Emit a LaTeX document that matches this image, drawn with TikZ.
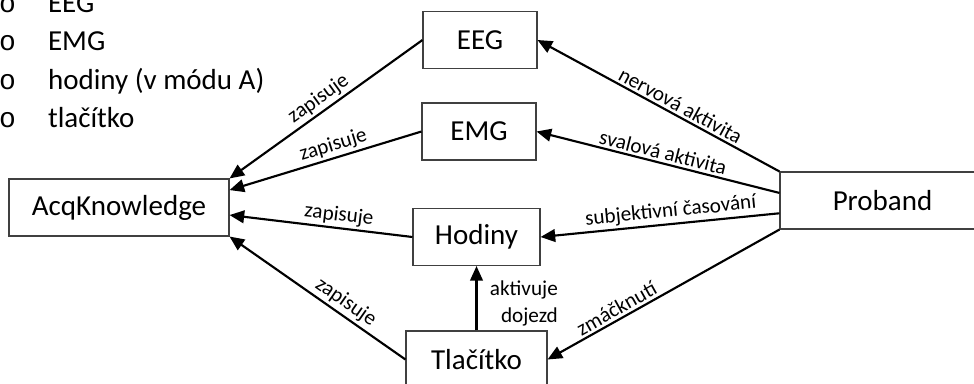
\documentclass[tikz,border=0pt]{standalone}
\usepackage{fontspec}
\setmainfont{Carlito}
\setmonofont{Liberation Mono}
\usetikzlibrary{arrows.meta,calc}

\begin{document}
\begin{tikzpicture}[x=0.75pt, y=-0.75pt,
    main/.style = {draw=black!75, line width=0.8pt, rectangle, minimum height=42.75pt, inner sep=0pt, font=\fontsize{21.75}{26}\selectfont},
    lbl/.style = {inner sep=1.8pt, font=\fontsize{15.9}{20.5}\selectfont},
    item/.style = {anchor=base west, inner sep=0pt, font=\fontsize{21.75}{26}\selectfont},
    bul/.style = {anchor=base west, inner sep=0pt, font=\ttfamily\fontsize{21}{26}\selectfont},
    >={Triangle[length=11pt, width=9.5pt]}, line width=1.6pt]
\useasboundingbox (0,0) rectangle (974,383);
\clip (0,0) rectangle (974,383);
% list top left
\node[bul] (b1) at (-2,12) {o};  \node[item] (i1) at (47,12) {EEG};
\node[bul] (b2) at (-2,50) {o};  \node[item] (i2) at (47,50) {EMG};
\node[bul] (b3) at (-2,89) {o};  \node[item] (i3) at (47,89) {hodiny (v módu A)};
\node[bul] (b4) at (-2,127) {o}; \node[item] (i4) at (47,127) {tlačítko};
% boxes
\node[main, minimum width=85.5pt] (eeg) at (480,40) {EEG};
\node[main, minimum width=85.5pt] (emg) at (479,131.5) {EMG};
\node[main, minimum width=165pt] (acq) at (119,207.5) {AcqKnowledge};
\node[main, minimum width=95.25pt] (hodiny) at (476.5,237) {Hodiny};
\node[main, minimum width=105.75pt] (tlacitko) at (476.5,359.5) {Tlačítko};
\node[main, minimum width=153.75pt] (proband) at (882.5,200.5) {Proband};
% zapisuje
\draw[->] (eeg.west) to node[lbl, above, sloped, pos=0.5] {zapisuje} (acq.north east);
\draw[->] (emg.west) to node[lbl, above, sloped, pos=0.44] {zapisuje} ($(acq.north east)!0.2!(acq.south east)$);
\draw[->] (hodiny.west) to node[lbl, above, sloped, pos=0.41] {zapisuje} ($(acq.north east)!0.63!(acq.south east)$);
\draw[->] (tlacitko.west) to node[lbl, above, sloped, pos=0.38] {zapisuje} (acq.south east);
% from proband
\draw[->] (proband.north west) to node[lbl, above, sloped, pos=0.43] {nervová aktivita} (eeg.east);
\draw[->] ($(proband.north west)!0.37!(proband.south west)$) to node[lbl, above, sloped, pos=0.49] {svalová aktivita} (emg.east);
\draw[->] ($(proband.north west)!0.72!(proband.south west)$) to node[lbl, above, sloped, pos=0.45] {subjektivní časování} (hodiny.east);
\draw[->] (proband.south west) to node[lbl, above, sloped, pos=0.68] {zmáčknutí} (tlacitko.east);
\draw[->] (tlacitko.north) to node[lbl, right, align=right, xshift=7.5pt, yshift=-4pt] {aktivuje\\dojezd} (hodiny.south);
\end{tikzpicture}
\end{document}
